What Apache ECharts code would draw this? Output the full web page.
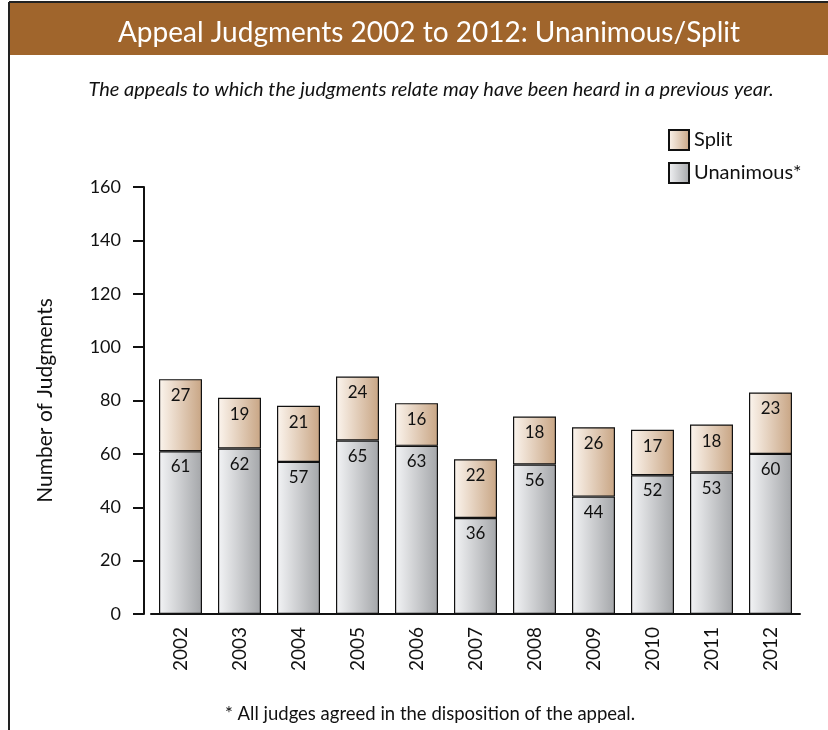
<!DOCTYPE html>
<html>
<head>
<meta charset="utf-8">
<script src="https://cdn.jsdelivr.net/npm/echarts@6/dist/echarts.min.js"></script>
<style>
  html, body { margin: 0; padding: 0; background: #fff; }
  #chart { width: 828px; height: 730px; }
</style>
</head>
<body>
<div id="chart"></div>
<script>
// data
const years = ['2002', '2003', '2004', '2005', '2006', '2007', '2008', '2009', '2010', '2011', '2012']
const unanimous = [61, 62, 57, 65, 63, 36, 56, 44, 52, 53, 60]
const split = [27, 19, 21, 24, 16, 22, 18, 26, 17, 18, 23]
const yTicks = { min: 0, max: 160, interval: 20 }

const font = 'Lato, "Open Sans", sans-serif'

const chart = echarts.init(document.getElementById('chart'))

const grad = (a, b) => new echarts.graphic.LinearGradient(0, 0, 1, 0, [
  { offset: 0, color: a },
  { offset: 1, color: b }
])

const option = {
  animation: false,
  textStyle: { fontFamily: font, color: '#111' },
  title: [
    {
      text: 'Appeal Judgments 2002 to 2012: Unanimous/Split',
      left: 424, top: 14, textAlign: 'center',
      textStyle: { color: '#fff', fontSize: 28, fontWeight: 'normal', fontFamily: font }
    },
    {
      text: 'The appeals to which the judgments relate may have been heard in a previous year.',
      left: 426, top: 75, textAlign: 'center',
      textStyle: { color: '#111', fontSize: 20, fontStyle: 'italic', fontWeight: 'normal', fontFamily: font }
    },
    {
      text: '* All judges agreed in the disposition of the appeal.',
      left: 425, top: 700, textAlign: 'center',
      textStyle: { color: '#111', fontSize: 18.5, fontWeight: 'normal', fontFamily: font }
    }
  ],
  graphic: [
    { type: 'rect', shape: { x: 9, y: 3, width: 830, height: 52 }, style: { fill: '#a0652c' }, z: -1 },
    { type: 'line', shape: { x1: 9, y1: 2, x2: 828, y2: 2 }, style: { stroke: '#222', lineWidth: 2 } },
    { type: 'line', shape: { x1: 9, y1: 2, x2: 9, y2: 730 }, style: { stroke: '#222', lineWidth: 2 } }
  ],
  legend: {
    data: ['Split', 'Unanimous*'],
    orient: 'vertical',
    left: 663, top: 124,
    itemWidth: 20, itemHeight: 20, itemGap: 11,
    icon: 'rect',
    textStyle: { fontSize: 20, color: '#111', fontFamily: font }
  },
  grid: { left: 151, right: 28, top: 187, bottom: 116 },
  xAxis: {
    type: 'category',
    data: years,
    axisLine: { lineStyle: { color: '#111', width: 2 } },
    axisTick: { show: false },
    axisLabel: { rotate: 90, margin: 13, fontSize: 19, color: '#111', fontFamily: font }
  },
  yAxis: {
    type: 'value',
    min: yTicks.min, max: yTicks.max, interval: yTicks.interval,
    offset: 7,
    name: 'Number of Judgments',
    nameLocation: 'middle',
    nameGap: 88,
    nameTextStyle: { fontSize: 21, color: '#111', fontFamily: font },
    axisLine: { show: true, lineStyle: { color: '#111', width: 2 } },
    axisTick: { show: true, inside: false, length: 11, lineStyle: { color: '#111', width: 2 } },
    axisLabel: { margin: 23, fontSize: 18, color: '#111', fontFamily: font },
    splitLine: { show: false }
  },
  series: [
    {
      name: 'Unanimous*',
      type: 'bar',
      stack: 'total',
      barWidth: 43,
      data: unanimous,
      itemStyle: { color: grad('#f3f4f6', '#a4a6a9'), borderColor: '#111', borderWidth: 1.2 },
      label: { show: true, position: 'insideTop', distance: 7, fontSize: 17, color: '#111', fontFamily: font }
    },
    {
      name: 'Split',
      type: 'bar',
      stack: 'total',
      barWidth: 43,
      data: split,
      itemStyle: { color: grad('#fcf5ee', '#c8a584'), borderColor: '#111', borderWidth: 1.2 },
      label: { show: true, position: 'insideTop', distance: 8, fontSize: 17, color: '#111', fontFamily: font }
    }
  ]
}

chart.setOption(option)
</script>
</body>
</html>
